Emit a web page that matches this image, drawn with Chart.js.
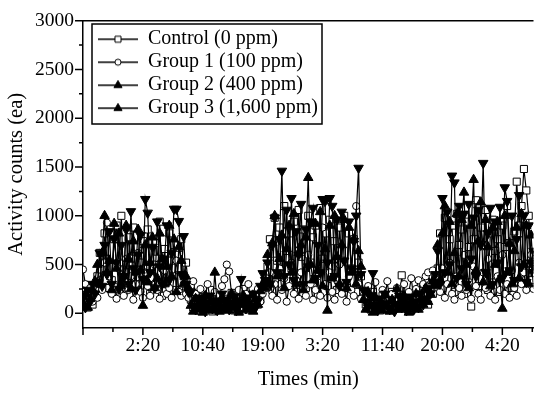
<!DOCTYPE html>
<html>
<head>
<meta charset="utf-8">
<script src="https://cdn.jsdelivr.net/npm/chart.js@4.4.1/dist/chart.umd.min.js"></script>
<style>
  html, body { margin: 0; padding: 0; background: #fff; }
  canvas { display: block; }
</style>
</head>
<body>
<canvas id="chart" width="540" height="395" role="img" aria-label="Activity counts over time for four dose groups"></canvas>
<script>
const FONT = "'Liberation Serif', 'Times New Roman', serif";

// one reading every 20 min, t = 0 is 18:00
const STEP_MIN = 20;
const X_MAX = 3760;
const X_TICKS = [0, 250, 500, 750, 1000, 1250, 1500, 1750, 2000, 2250, 2500, 2750, 3000, 3250, 3500, 3750];
const X_TICK_LABELS = ['', '', '2:20', '', '10:40', '', '19:00', '', '3:20', '', '11:40', '', '20:00', '', '4:20', ''];
const Y_TICKS = [0, 250, 500, 750, 1000, 1250, 1500, 1750, 2000, 2250, 2500, 2750, 3000];
const Y_TICK_LABELS = ['0', '', '500', '', '1000', '', '1500', '', '2000', '', '2500', '', '3000'];
const SERIES_NAMES = ['Control (0 ppm)', 'Group 1 (100 ppm)', 'Group 2 (400 ppm)', 'Group 3 (1,600 ppm)'];

const control = [
  220, 140, 60, 180, 90, 250,
  380, 620, 450, 820, 560, 260, 340, 760, 900, 520, 1000, 220, 420, 780, 560, 880, 300, 240, 520, 740,
  460, 860, 200, 380, 720, 560, 940, 180, 660, 300, 820, 540, 700, 240, 600, 760, 380, 520, 280,
  140, 60, 200, 30, 110, 170, 50, 90, 240, 20, 130, 80, 190, 40, 150, 100, 60, 210, 30, 120,
  170, 70, 250, 40, 110, 160, 60, 200, 90, 140, 260, 330,
  480, 760, 240, 980, 540, 880, 300, 1100, 640, 820, 460, 940, 220, 1060, 580, 860, 260, 1000, 520, 780,
  900, 200, 1080, 560, 820, 280, 960, 480, 740, 240, 880, 540, 1000, 260, 820, 460, 760, 220, 520, 380,
  200, 90, 150, 40, 220, 70, 130, 30, 180, 100, 60, 160, 220, 80, 120, 50, 390, 140, 70, 190,
  30, 110, 160, 60, 230, 120, 180, 90, 250, 200, 320,
  460, 820, 260, 980, 560, 760, 900, 220, 1020, 700, 860, 200, 940, 680, 70, 760, 1160, 280, 880, 700,
  1060, 240, 820, 960, 640, 760, 220, 900, 680, 1100, 720, 260, 840, 1350, 900, 1100, 1480, 1260, 1000, 340, 600
];
const group1 = [
  450, 300, 180, 260, 120, 200,
  160, 340, 240, 520, 930, 380, 200, 280, 150, 460, 300, 180, 560, 240, 380, 140, 300, 620, 220, 160,
  420, 280, 180, 360, 500, 240, 150, 320, 440, 200, 260, 160, 380, 540, 220, 180, 300, 200, 160,
  280, 330, 200, 120, 250, 90, 180, 300, 150, 60, 220, 110, 180, 280, 350, 500, 430, 200, 120, 90,
  240, 160, 60, 200, 300, 130, 80, 180, 250, 120, 200, 300,
  260, 420, 180, 300, 140, 460, 240, 360, 120, 280, 520, 200, 340, 150, 420, 260, 180, 600, 300, 140,
  240, 380, 180, 880, 300, 160, 420, 220, 140, 340, 500, 200, 280, 120, 380, 240, 180, 1100, 300, 150,
  220, 140, 280, 100, 180, 320, 120, 60, 240, 160, 330, 90, 200, 140, 260, 80, 180, 300, 120, 220,
  360, 150, 250, 340, 200, 300, 380, 420, 300, 440, 380,
  340, 220, 460, 160, 300, 520, 200, 140, 380, 260, 180, 600, 240, 320, 150, 480, 280, 200, 140, 420,
  260, 560, 180, 320, 140, 380, 240, 600, 200, 300, 160, 440, 260, 180, 520, 300, 420, 240, 480, 600, 250
];
const group2 = [
  100, 200, 60, 150, 240, 330,
  500, 300, 620, 1000, 420, 540, 240, 920, 460, 820, 300, 380, 900, 560, 250, 740, 420, 860, 440, 80,
  700, 320, 520, 780, 260, 360, 820, 560, 300, 480, 900, 380, 760, 220, 680, 540, 300, 380, 260,
  80, 20, 150, 40, 100, 10, 180, 60, 120, 30, 420, 90, 20, 160, 50, 110, 30, 200, 70, 140,
  10, 90, 180, 40, 120, 60, 20, 150, 90, 230, 300, 260,
  600, 300, 720, 1000, 380, 560, 800, 260, 660, 900, 420, 1020, 300, 620, 700, 240, 780, 1390, 500, 340,
  920, 440, 1040, 280, 660, 30, 900, 360, 1000, 580, 300, 700, 960, 260, 880, 420, 760, 300, 640, 480,
  140, 40, 220, 80, 10, 160, 60, 120, 30, 190, 70, 20, 140, 90, 250, 40, 110, 180, 60, 10,
  130, 80, 200, 40, 150, 90, 260, 120, 200, 330, 280,
  700, 340, 820, 1100, 420, 940, 300, 620, 1020, 380, 960, 1240, 500, 260, 900, 1370, 440, 740, 1140, 320,
  960, 680, 280, 880, 500, 940, 360, 50, 1000, 420, 720, 300, 640, 880, 360, 1020, 500, 900, 300, 800, 440
];
const group3 = [
  160, 60, 240, 120, 300, 200,
  320, 620, 280, 700, 400, 840, 300, 760, 520, 250, 700, 380, 860, 300, 1045, 460, 240, 600, 800, 350,
  1170, 1030, 420, 680, 260, 940, 480, 300, 560, 900, 340, 620, 1070, 1070, 945, 400, 790, 300, 220,
  220, 80, 40, 160, 60, 120, 20, 90, 180, 50, 130, 30, 100, 200, 60, 140, 40, 110, 170, 30,
  90, 350, 120, 50, 160, 80, 200, 60, 130, 280, 410, 340,
  520, 300, 700, 980, 420, 760, 1460, 380, 1060, 500, 1180, 340, 840, 600, 1120, 300, 860, 480, 940, 1080,
  360, 700, 420, 1170, 1150, 520, 1180, 1100, 380, 960, 280, 1040, 540, 320, 940, 460, 740, 1000, 1490, 400,
  240, 120, 60, 180, 410, 90, 30, 150, 60, 200, 100, 40, 140, 20, 90, 180, 60, 120, 30, 100,
  170, 40, 120, 60, 200, 90, 150, 260, 200, 320, 400,
  640, 300, 1180, 420, 1040, 500, 1410, 1340, 360, 1100, 460, 1020, 300, 1120, 560, 980, 380, 1060, 700, 1540,
  420, 820, 1080, 300, 940, 520, 1090, 360, 1290, 1150, 440, 1000, 340, 760, 1210, 480, 1000, 320, 900, 520, 640
];

const pts = arr => arr.map((y, i) => ({ x: i * STEP_MIN, y }));

const MARKERS = [
  { style: 'rect', fill: '#fff', radius: 5, rotation: 0 },
  { style: 'circle', fill: '#fff', radius: 3.6, rotation: 0 },
  { style: 'triangle', fill: '#000', radius: 5.5, rotation: 0 },
  { style: 'triangle', fill: '#000', radius: 5.5, rotation: 180 },
];

// little "line + marker" pictures for the legend
function legendIcon(m) {
  const c = document.createElement('canvas');
  c.width = 40; c.height = 14;
  const g = c.getContext('2d');
  g.strokeStyle = '#000';
  g.lineWidth = 1.5;
  g.beginPath(); g.moveTo(0, 7); g.lineTo(40, 7); g.stroke();
  g.fillStyle = m.fill;
  g.lineWidth = 1;
  g.translate(20, 7);
  g.rotate(m.rotation * Math.PI / 180);
  Chart.helpers.drawPoint(g, { pointStyle: m.style, rotation: 0, radius: m.radius * 0.85, borderWidth: 1 }, 0, 0);
  return c;
}
const LEGEND_ICONS = MARKERS.map(legendIcon);

// later groups sit on top, as in the original plot
const datasets = [control, group1, group2, group3].map((arr, i) => ({
  label: SERIES_NAMES[i],
  data: pts(arr),
  order: 3 - i,
  borderColor: '#000',
  borderWidth: 1.2,
  pointStyle: MARKERS[i].style,
  pointRotation: MARKERS[i].rotation,
  pointRadius: MARKERS[i].radius,
  pointBackgroundColor: MARKERS[i].fill,
  pointBorderColor: '#000',
  pointBorderWidth: 1,
}));

const legendPlace = {
  id: 'legendPlace',
  afterLayout(chart) {
    chart.legend.left = chart.chartArea.left + 12;
    chart.legend.top = chart.chartArea.top + 5.5;
  },
  afterDraw(chart) {
    const boxes = chart.legend.legendHitBoxes;
    if (!boxes || !boxes.length) return;
    const l = Math.min(...boxes.map(b => b.left)) - 6;
    const t = Math.min(...boxes.map(b => b.top)) - 5;
    const r = Math.max(...boxes.map(b => b.left + b.width)) + 4;
    const b = Math.max(...boxes.map(b => b.top + b.height)) + 6;
    const ctx = chart.ctx;
    ctx.save();
    ctx.strokeStyle = '#000';
    ctx.lineWidth = 1.5;
    ctx.strokeRect(Math.round(l), Math.round(t), Math.round(r - l), Math.round(b - t));
    ctx.restore();
  }
};

const axisTicks = {
  id: 'axisTicks',
  afterDraw(chart) {
    const { ctx, chartArea: a, scales: { x, y } } = chart;
    ctx.save();
    ctx.strokeStyle = '#000';
    ctx.lineWidth = 1.5;
    ctx.beginPath();
    ctx.moveTo(a.left, a.top); ctx.lineTo(a.right, a.top);
    x.ticks.forEach(t => {
      const px = x.getPixelForValue(t.value);
      ctx.moveTo(px, a.bottom); ctx.lineTo(px, a.bottom + (t.value % 500 === 0 ? 7 : 4));
    });
    y.ticks.forEach(t => {
      const py = y.getPixelForValue(t.value);
      ctx.moveTo(a.left, py); ctx.lineTo(a.left - (t.value % 500 === 0 ? 8 : 4), py);
    });
    ctx.stroke();
    ctx.restore();
  }
};

Chart.defaults.font.family = FONT;
Chart.defaults.color = '#000';

new Chart(document.getElementById('chart'), {
  type: 'line',
  data: { datasets },
  options: {
    responsive: false,
    animation: false,
    layout: { padding: { top: 15, right: 0, bottom: 0, left: 0 } },
    plugins: {
      tooltip: { enabled: false },
      legend: {
        position: 'chartArea',
        align: 'start',
        labels: {
          usePointStyle: true,
          pointStyleWidth: 40,
          padding: 3,
          color: '#000',
          font: { family: FONT, size: 20 },
          sort: (a, b) => a.datasetIndex - b.datasetIndex,
          generateLabels: chart => Chart.defaults.plugins.legend.labels.generateLabels(chart)
            .map(item => ({ ...item, pointStyle: LEGEND_ICONS[item.datasetIndex] })),
        },
      },
    },
    scales: {
      x: {
        type: 'linear',
        min: 0,
        max: X_MAX,
        grid: { display: false, drawTicks: false },
        border: { display: true, color: '#000', width: 1.5 },
        afterBuildTicks: s => { s.ticks = X_TICKS.map(value => ({ value })); },
        ticks: {
          autoSkip: false,
          maxRotation: 0,
          padding: 6,
          font: { family: FONT, size: 19.5 },
          color: '#000',
          callback: (v, i) => X_TICK_LABELS[i],
        },
        title: { display: true, text: 'Times (min)', font: { family: FONT, size: 20.5 }, color: '#000', padding: { top: 4, bottom: 3 } },
        afterFit: s => { s.height = 67; },
      },
      y: {
        min: -150,
        max: 3000,
        grid: { display: false, drawTicks: false },
        border: { display: true, color: '#000', width: 1.5 },
        afterBuildTicks: s => { s.ticks = Y_TICKS.map(value => ({ value })); },
        ticks: {
          autoSkip: false,
          padding: 9,
          font: { family: FONT, size: 19.5 },
          color: '#000',
          callback: (v, i) => Y_TICK_LABELS[i],
        },
        title: { display: true, text: 'Activity counts (ea)', font: { family: FONT, size: 20.5 }, color: '#000', padding: { top: 4, bottom: 0 } },
        afterFit: s => { s.width = 83; },
      },
    },
  },
  plugins: [legendPlace, axisTicks],
});
</script>
</body>
</html>
